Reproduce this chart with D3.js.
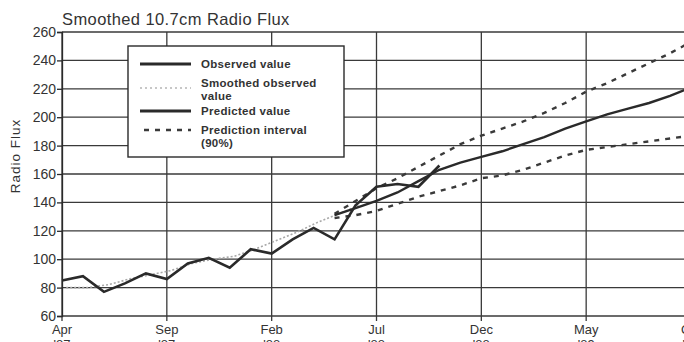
<!DOCTYPE html>
<html>
<head>
<meta charset="utf-8">
<script src="https://cdn.jsdelivr.net/npm/d3@7"></script>
<style>
  body { margin: 0; overflow: hidden; background: #fff; }
  svg { display: block; font-family: "Liberation Sans", Arial, sans-serif; }
</style>
</head>
<body>
<svg id="chart" width="700" height="342"></svg>
<script>
// month index 0 = Apr '87
const tickMonths = [0, 5, 10, 15, 20, 25, 30];
const tickNames = ['Apr', 'Sep', 'Feb', 'Jul', 'Dec', 'May', 'Oct'];
const tickYears = ["'87", "'87", "'88", "'88", "'88", "'89", "'89"];
const yTicks = [60, 80, 100, 120, 140, 160, 180, 200, 220, 240, 260];

const observed = [85, 88, 77, 83, 90, 86, 97, 101, 94, 107, 104, 114, 122, 114, 138, 151, 153, 151, 166];
const smoothed = [80, 80, 82, 86, 89, 92, 97, 100, 102, 107, 113, 119, 126, 132, 138];
const predStart = 13;
const predicted = [131, 136, 141, 147, 155, 163, 168, 172, 176, 181, 186, 192, 197, 202, 206, 210, 215, 221];
const upper = [132, 141, 150, 157, 165, 173, 181, 187, 192, 197, 203, 210, 218, 224, 231, 238, 245, 253];
const lower = [129, 131, 134, 139, 144, 148, 152, 157, 159, 163, 168, 173, 177, 179, 181, 183, 185, 187];

const legendItems = [
  {lines: ['Observed value'], style: 'obs'},
  {lines: ['Smoothed observed', 'value'], style: 'smooth'},
  {lines: ['Predicted value'], style: 'pred'},
  {lines: ['Prediction interval', '(90%)'], style: 'dash'}
];

const svg = d3.select('#chart');
const margin = {top: 32, left: 62};
const plotW = 629, plotH = 284;

const x = d3.scaleLinear().domain([0, 30]).range([margin.left, margin.left + plotW]);
const y = d3.scaleLinear().domain([60, 260]).range([margin.top + plotH, margin.top]);

const ink = '#2a2a2a';

// grid
svg.append('g')
  .selectAll('line')
  .data(yTicks)
  .enter().append('line')
  .attr('x1', x(0)).attr('x2', x(30))
  .attr('y1', d => y(d)).attr('y2', d => y(d))
  .style('stroke', '#3a3a3a').style('stroke-width', 1.3);

svg.append('g')
  .selectAll('line')
  .data(tickMonths)
  .enter().append('line')
  .attr('x1', d => x(d)).attr('x2', d => x(d))
  .attr('y1', y(260)).attr('y2', y(60) + 5)
  .style('stroke', '#3a3a3a').style('stroke-width', 1.3);

// y axis
const yAxis = d3.axisLeft(y).tickValues(yTicks).tickSize(5).tickPadding(1);
const gy = svg.append('g')
  .attr('transform', `translate(${x(0)},0)`)
  .call(yAxis);
gy.select('.domain').style('stroke', ink).style('stroke-width', 1.3);
gy.selectAll('.tick line').style('stroke', ink).style('stroke-width', 1.3);
gy.selectAll('.tick text')
  .style('font-size', '14px').style('fill', '#333').style('font-family', '"Liberation Sans", Arial, sans-serif');

// x tick labels (two lines, second one runs off the bottom like the original)
const gx = svg.append('g');
tickMonths.forEach((m, i) => {
  const t = gx.append('text')
    .attr('x', x(m)).attr('y', 334)
    .style('text-anchor', 'middle')
    .style('font-size', '13px')
    .style('fill', '#333');
  t.append('tspan').attr('x', x(m)).text(tickNames[i]);
  t.append('tspan').attr('x', x(m)).attr('dy', '1.15em').text(tickYears[i]);
});

// title and y label
svg.append('text')
  .attr('x', 62).attr('y', 25)
  .style('font-size', '16.5px').style('fill', '#333')
  .style('letter-spacing', '0.4px')
  .text('Smoothed 10.7cm Radio Flux');

svg.append('text')
  .attr('transform', 'translate(20,156) rotate(-90)')
  .style('text-anchor', 'middle')
  .style('font-size', '13.5px').style('fill', '#333')
  .style('letter-spacing', '1px')
  .text('Radio Flux');

// series
const line = d3.line().x(d => x(d.m)).y(d => y(d.v));
const toPts = (arr, start) => arr.map((v, i) => ({m: start + i, v: v}));

svg.append('path')
  .datum(toPts(smoothed, 0.2))
  .attr('d', line)
  .style('fill', 'none').style('stroke', '#a8a8a8').style('stroke-width', 1.6)
  .style('stroke-dasharray', '2,2');

[upper, lower].forEach(arr => {
  svg.append('path')
    .datum(toPts(arr, predStart))
    .attr('d', line)
    .style('fill', 'none').style('stroke', '#3a3a3a').style('stroke-width', 2.4)
    .style('stroke-dasharray', '5,6');
});

svg.append('path')
  .datum(toPts(predicted, predStart))
  .attr('d', line)
  .style('fill', 'none').style('stroke', ink).style('stroke-width', 2.4);

svg.append('path')
  .datum(toPts(observed, 0))
  .attr('d', line)
  .style('fill', 'none').style('stroke', ink).style('stroke-width', 2.6)
  .style('stroke-linejoin', 'miter');

// legend
const lg = svg.append('g').attr('transform', 'translate(128,46)');
lg.append('rect')
  .attr('width', 216).attr('height', 111)
  .style('fill', '#fff').style('stroke', ink).style('stroke-width', 1.4);

const rowY = [18, 37, 65, 84];
legendItems.forEach((item, i) => {
  const ly = rowY[i];
  const sample = lg.append('line')
    .attr('x1', 12).attr('x2', 63)
    .attr('y1', item.style === 'smooth' ? ly + 5 : ly)
    .attr('y2', item.style === 'smooth' ? ly + 5 : ly);
  if (item.style === 'smooth') {
    sample.style('stroke', '#b5b5b5').style('stroke-width', 1.5).style('stroke-dasharray', '2,3');
  } else if (item.style === 'dash') {
    sample.attr('x1', 16).style('stroke', '#3a3a3a').style('stroke-width', 2.6).style('stroke-dasharray', '5,6');
  } else {
    sample.style('stroke', ink).style('stroke-width', 3);
  }
  const t = lg.append('text')
    .attr('x', 73).attr('y', ly + 4)
    .style('font-size', '11.5px').style('fill', '#333').style('font-weight', 'bold')
    .style('letter-spacing', '0.3px');
  item.lines.forEach((s, j) => {
    t.append('tspan').attr('x', 73).attr('dy', j === 0 ? 0 : '1.15em').text(s);
  });
});
</script>
</body>
</html>
